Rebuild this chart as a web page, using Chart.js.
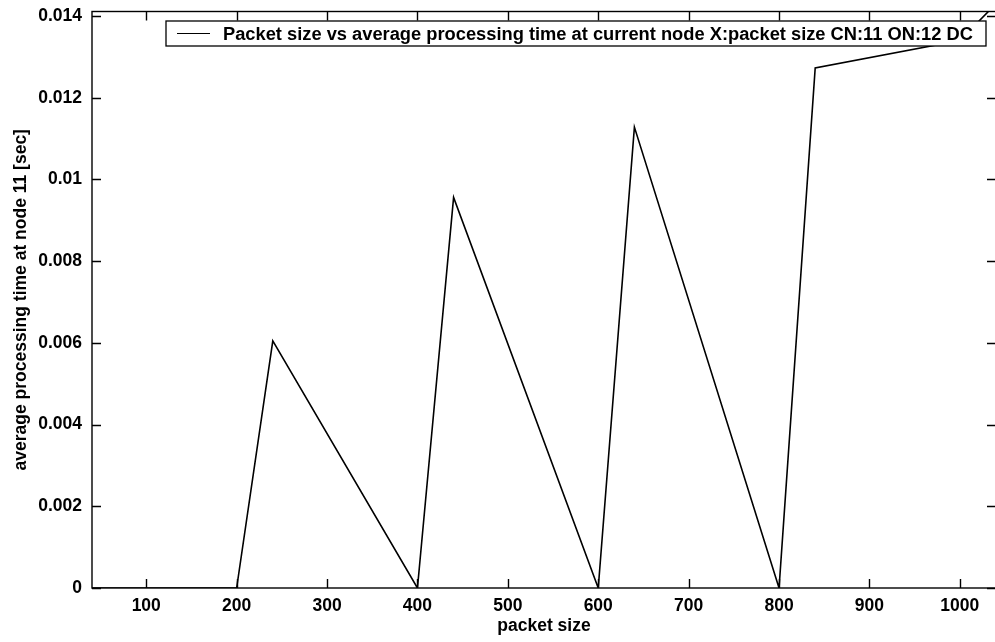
<!DOCTYPE html>
<html>
<head>
<meta charset="utf-8">
<script src="https://cdn.jsdelivr.net/npm/chart.js@4/dist/chart.umd.min.js"></script>
<style>
  html, body { margin: 0; padding: 0; background: #fff; overflow: hidden; }
  #wrap { width: 1000px; height: 642px; }
</style>
</head>
<body>
<div id="wrap"><canvas id="c" width="1000" height="642"></canvas></div>
<script>
// ---- data ----
const packetSizes = [40, 200, 240, 400, 440, 600, 640, 800, 840, 1000, 1040];
const avgTimes    = [0, 0, 0.00605, 0, 0.00956, 0, 0.01128, 0, 0.01273, 0.0134, 0.0143];
const xTicks = [100, 200, 300, 400, 500, 600, 700, 800, 900, 1000];
const yTicks = [0, 0.002, 0.004, 0.006, 0.008, 0.01, 0.012, 0.014];
const yTickLabels = ['0', '0.002', '0.004', '0.006', '0.008', '0.01', '0.012', '0.014'];
const seriesLabel = 'Packet size vs average processing time at current node X:packet size CN:11 ON:12 DC';
const xTitle = 'packet size';
const yTitle = 'average processing time at node 11 [sec]';

const FONT = 'Liberation Sans, Arial, Helvetica, sans-serif';

// Box + inward ticks on all four sides
const boxPlugin = {
  id: 'matlabBox',
  afterDatasetsDraw(chart) {
    const { ctx, chartArea: a, scales } = chart;
    const tl = 9;
    ctx.save();
    ctx.strokeStyle = '#000';
    ctx.lineWidth = 1.4;
    ctx.strokeRect(a.left, a.top, a.right - a.left, a.bottom - a.top);
    ctx.beginPath();
    xTicks.forEach(v => {
      const px = Math.round(scales.x.getPixelForValue(v)) + 0.5;
      ctx.moveTo(px, a.bottom); ctx.lineTo(px, a.bottom - tl);
      ctx.moveTo(px, a.top); ctx.lineTo(px, a.top + tl);
    });
    yTicks.forEach(v => {
      const py = Math.round(scales.y.getPixelForValue(v)) + 0.5;
      ctx.moveTo(a.left, py); ctx.lineTo(a.left + tl, py);
      ctx.moveTo(a.right, py); ctx.lineTo(a.right - tl, py);
    });
    ctx.stroke();

    // legend box (opaque, inside the axes, top right)
    const lx = a.left + 74, ly = a.top + 9.5, lw = a.right - 10 - lx, lh = 25;
    ctx.fillStyle = '#fff';
    ctx.fillRect(lx, ly, lw, lh);
    ctx.lineWidth = 1.3;
    ctx.strokeRect(lx, ly, lw, lh);
    const cy = ly + lh / 2;
    ctx.beginPath();
    ctx.lineWidth = 1.2;
    ctx.moveTo(lx + 11, cy); ctx.lineTo(lx + 44, cy);
    ctx.stroke();
    ctx.fillStyle = '#000';
    ctx.font = 'bold 18.3px ' + FONT;
    ctx.textBaseline = 'middle';
    ctx.textAlign = 'left';
    ctx.fillText(chart.data.datasets[0].label, lx + 57, cy + 1);
    ctx.restore();
  }
};

const zeroPad = s => { s.paddingTop = 0; s.paddingBottom = 0; s.paddingLeft = 0; s.paddingRight = 0; };

new Chart(document.getElementById('c'), {
  type: 'line',
  data: {
    datasets: [{
      label: seriesLabel,
      data: packetSizes.map((x, i) => ({ x: x, y: avgTimes[i] })),
      borderColor: '#000',
      borderWidth: 1.6,
      pointRadius: 0,
      tension: 0,
      fill: false
    }]
  },
  options: {
    responsive: false,
    animation: false,
    events: [],
    layout: { padding: { top: 11.5, right: 4, left: 0, bottom: 0 } },
    plugins: { legend: { display: false }, tooltip: { enabled: false } },
    scales: {
      x: {
        type: 'linear',
        min: 40,
        max: 1040,
        afterBuildTicks: s => { s.ticks = xTicks.map(v => ({ value: v })); },
        afterFit: s => { s.height = 54; zeroPad(s); },
        grid: { display: false, drawTicks: false },
        border: { display: false },
        ticks: {
          color: '#000', font: { family: FONT, size: 17.5, weight: 'bold' }, padding: 8,
          maxRotation: 0, autoSkip: false,
          callback: v => String(v)
        },
        title: {
          display: true, text: xTitle, color: '#000',
          font: { family: FONT, size: 17.5, weight: 'bold' }, padding: { top: 0, bottom: 5 }
        }
      },
      y: {
        type: 'linear',
        min: 0,
        max: 0.01411,
        afterBuildTicks: s => { s.ticks = yTicks.map(v => ({ value: v })); },
        afterFit: s => { s.width = 92; zeroPad(s); },
        grid: { display: false, drawTicks: false },
        border: { display: false },
        ticks: {
          color: '#000', font: { family: FONT, size: 17.5, weight: 'bold' }, padding: 10,
          autoSkip: false,
          callback: (v, i) => yTickLabels[i]
        },
        title: {
          display: true, text: yTitle, color: '#000',
          font: { family: FONT, size: 17.5, weight: 'bold' }, padding: { top: 11, bottom: 0 }
        }
      }
    }
  },
  plugins: [boxPlugin]
});
</script>
</body>
</html>
